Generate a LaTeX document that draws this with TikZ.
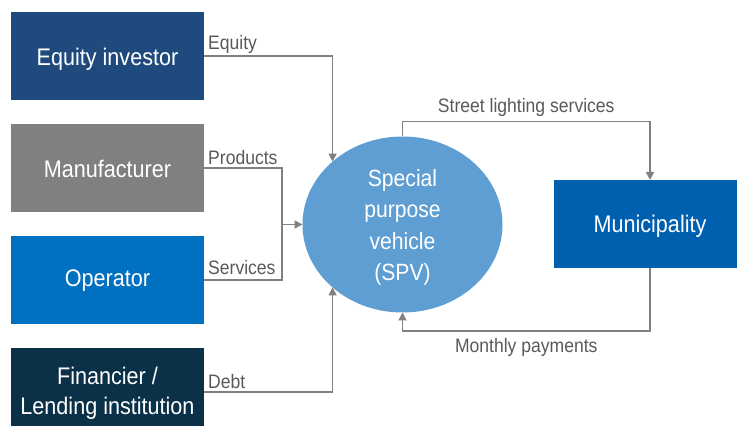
\documentclass[tikz,border=0pt]{standalone}
\usepackage{fontspec}
\setmainfont{Liberation Sans}[FakeStretch=0.9]
\usetikzlibrary{shapes.geometric,arrows.meta,calc}
\definecolor{eqblue}{RGB}{31,74,126}
\definecolor{mangrey}{RGB}{128,128,128}
\definecolor{opblue}{RGB}{0,112,192}
\definecolor{finnavy}{RGB}{11,49,73}
\definecolor{spvblue}{RGB}{95,158,210}
\definecolor{munblue}{RGB}{0,96,176}
\definecolor{linegrey}{RGB}{128,128,128}
\definecolor{labgrey}{RGB}{89,89,89}
\tikzset{
  party/.style={rectangle, minimum width=193pt, minimum height=88pt, inner sep=0pt, outer sep=0pt,
    text=white, align=center, font=\fontsize{24}{30}\selectfont},
  flow/.style={draw=linegrey, line width=1.7pt},
  arr/.style={flow, -{Triangle[length=8pt,width=8pt]}},
  lab/.style={text=labgrey, font=\fontsize{19.5}{22}\selectfont, inner sep=0pt}
}
\begin{document}
\begin{tikzpicture}[x=1pt,y=1pt]
\useasboundingbox (0,0) rectangle (737,426);
\clip (0,0) rectangle (737,426);
% parties
\node[party, fill=eqblue] (eq) at (107.5,370) {};
\node[party, fill=mangrey] (man) at (107.5,258) {};
\node[party, fill=opblue] (op) at (107.5,146) {};
\node[party, fill=finnavy] (fin) at (107.5,34) {};
\node[party, fill=munblue] (mun) at (650,202) {};
\node[text=white, font=\fontsize{24}{30}\selectfont, inner sep=0pt] (teq) at ($(eq.center)+(0,-3)$) {Equity investor};
\node[text=white, font=\fontsize{24}{30}\selectfont, inner sep=0pt] (tman) at ($(man.center)+(0,-1)$) {Manufacturer};
\node[text=white, font=\fontsize{24}{30}\selectfont, inner sep=0pt] (top2) at ($(op.center)+(0,-1)$) {Operator};
\node[text=white, font=\fontsize{24}{30}\selectfont, inner sep=0pt, align=center] (tfin) at ($(fin.center)+(0,-1)$) {Financier /\\Lending institution};
\node[text=white, font=\fontsize{24}{30}\selectfont, inner sep=0pt] (tmun) at ($(mun.center)+(0,-2)$) {Municipality};
\node[ellipse, fill=spvblue, minimum width=200pt, minimum height=176pt, inner sep=0pt, outer sep=0pt] (spv) at (402.5,201.5) {};
\node[text=white, align=center, font=\fontsize{23.5}{31.5}\selectfont, inner sep=0pt] (tspv) at ($(spv.center)+(0,-3)$)
  {Special\\purpose\\vehicle\\(SPV)};
% connectors
\draw[arr] (eq.east) -| (spv.138.5);
\draw[arr] (fin.east) -| (spv.-138.5);
\coordinate (mrg) at ($(man.east)+(78,0)$);
\draw[flow] (man.east) -- (mrg) -- (mrg |- op.east) -- (op.east);
\draw[arr] (mrg |- spv.west) -- (spv.west);
\coordinate (top) at ($(spv.north)+(0,15)$);
\draw[arr] (spv.north) -- (top) -| (mun.north);
\coordinate (bot) at ($(mun.south)+(0,-63)$);
\draw[arr] (mun.south) -- (bot) -| (spv.south);
% labels
\node[lab, anchor=south west] (leq) at ($(eq.east)+(4,2)$) {Equity};
\node[lab, anchor=south west] (lman) at ($(man.east)+(4,3)$) {Products};
\node[lab, anchor=south west] (lop) at ($(op.east)+(4,5)$) {Services};
\node[lab, anchor=south west] (lfin) at ($(fin.east)+(4,3)$) {Debt};
\node[lab, anchor=south] (lsl) at ($(top)!0.5!(top -| mun.north)+(0,5)$) {Street lighting services};
\node[lab, anchor=north] (lmp) at ($(bot)!0.5!(bot -| spv.south)+(0,-7)$) {Monthly payments};
\end{tikzpicture}
\end{document}
